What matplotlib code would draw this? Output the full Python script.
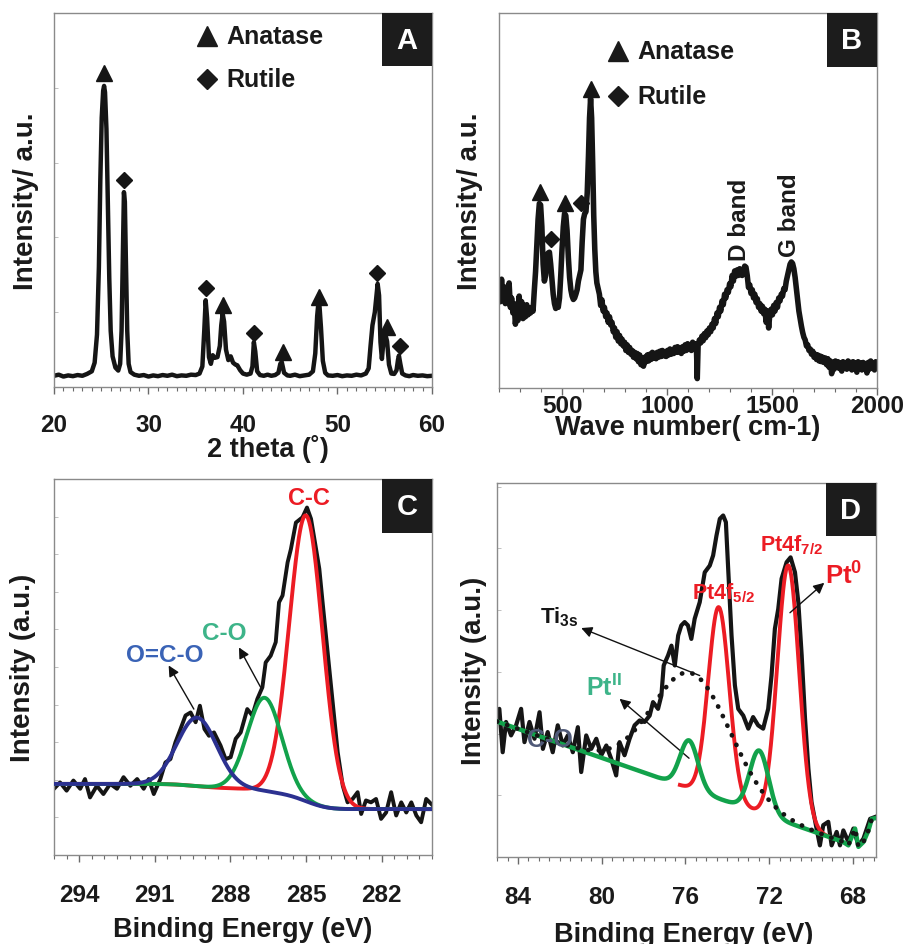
import numpy as np
import matplotlib
matplotlib.use("Agg")
import matplotlib.pyplot as plt
from matplotlib.patches import Rectangle
from matplotlib.ticker import MultipleLocator, NullLocator

plt.rcParams['font.family'] = ['Liberation Sans', 'DejaVu Sans']
plt.rcParams['font.weight'] = 'bold'
plt.rcParams['axes.labelweight'] = 'bold'
plt.rcParams['mathtext.fontset'] = 'custom'
plt.rcParams['mathtext.rm'] = 'Liberation Sans:bold'
plt.rcParams['mathtext.it'] = 'Liberation Sans:bold'
plt.rcParams['mathtext.bf'] = 'Liberation Sans:bold'

# ---------------- (A) XRD pattern ----------------
xrd_2theta = [
    20.0, 20.5, 21.0, 21.5, 22.0, 22.5, 23.0, 23.5, 24.0, 24.3,
    24.55, 24.75, 24.9, 25.05, 25.2, 25.3, 25.4, 25.55, 25.7, 25.85,
    26.0, 26.2, 26.5, 26.8, 27.0, 27.15, 27.3, 27.4, 27.5, 27.6,
    27.75, 27.9, 28.1, 28.5, 29.0, 29.5, 30.0, 30.5, 31.0, 31.5,
    32.0, 32.5, 33.0, 33.5, 34.0, 34.5, 35.0, 35.4, 35.7, 35.9,
    36.05, 36.2, 36.4, 36.6, 36.8, 37.0, 37.3, 37.55, 37.7, 37.85,
    38.0, 38.2, 38.45, 38.7, 38.95, 39.2, 39.4, 39.7, 40.0, 40.4,
    40.8, 41.0, 41.15, 41.3, 41.5, 41.8, 42.2, 42.6, 43.0, 43.4,
    43.75, 43.95, 44.1, 44.35, 44.7, 45.0, 45.5, 46.0, 46.5, 47.0,
    47.4, 47.65, 47.85, 47.97, 48.1, 48.25, 48.45, 48.7, 49.0, 49.5,
    50.0, 50.5, 51.0, 51.5, 52.0, 52.5, 53.0, 53.3, 53.5, 53.7,
    53.95, 54.1, 54.25, 54.4, 54.55, 54.7, 54.85, 55.05, 55.25, 55.45,
    55.7, 56.0, 56.25, 56.4, 56.5, 56.65, 56.85, 57.2, 57.6, 58.0,
    58.5, 59.0, 59.5, 60.0]
xrd_counts = [
    30, 33, 28, 31, 29, 32, 30, 35, 42, 65,
    140, 320, 550, 720, 792, 805, 788, 690, 490, 290,
    150, 82, 52, 44, 62, 150, 380, 521, 495, 350,
    150, 62, 40, 33, 30, 32, 28, 31, 29, 32,
    30, 33, 29, 31, 30, 33, 32, 36, 55, 150,
    232, 185, 80, 62, 85, 78, 80, 110, 165, 196,
    175, 100, 72, 82, 65, 60, 58, 45, 36, 33,
    36, 55, 120, 95, 42, 32, 30, 33, 30, 32,
    38, 62, 67, 38, 31, 30, 33, 29, 31, 33,
    42, 90, 190, 222, 215, 160, 70, 38, 31, 30,
    32, 29, 31, 30, 33, 31, 36, 50, 110, 165,
    200, 238, 276, 245, 120, 75, 118, 142, 122, 60,
    36, 35, 45, 72, 84, 62, 36, 31, 29, 32,
    30, 31, 29, 30]
xrd_anatase_pos = [25.3, 37.9, 44.2, 48.0, 55.2]
xrd_anatase_mark = [840, 220, 94, 242, 160]
xrd_rutile_pos = [27.45, 36.05, 41.15, 54.15, 56.6]
xrd_rutile_mark = [553, 265, 144, 305, 110]

# ---------------- (B) Raman spectrum ----------------
raman_shift = [
    200, 206, 212, 218, 224, 230, 236, 242, 248, 254,
    260, 266, 272, 278, 284, 290, 296, 302, 308, 314,
    320, 326, 332, 338, 344, 350, 356, 362, 368, 374,
    380, 386, 392, 398, 404, 410, 416, 422, 428, 434,
    440, 446, 452, 458, 464, 470, 476, 482, 488, 494,
    500, 506, 512, 518, 524, 530, 536, 542, 548, 554,
    560, 566, 572, 578, 584, 590, 596, 602, 608, 614,
    620, 626, 631, 636, 641, 646, 651, 656, 661, 666,
    672, 678, 684, 690, 696, 702, 708, 714, 720, 726,
    732, 738, 744, 750, 756, 762, 768, 774, 780, 786,
    792, 798, 804, 810, 816, 822, 828, 834, 840, 846,
    852, 858, 864, 870, 876, 882, 888, 894, 900, 906,
    912, 918, 924, 930, 936, 942, 948, 954, 960, 966,
    972, 978, 984, 990, 996, 1002, 1008, 1014, 1020, 1026,
    1032, 1038, 1044, 1050, 1056, 1062, 1068, 1074, 1080, 1086,
    1092, 1098, 1104, 1110, 1116, 1122, 1128, 1134, 1140, 1144,
    1148, 1154, 1160, 1166, 1172, 1178, 1184, 1190, 1196, 1202,
    1208, 1214, 1220, 1226, 1232, 1238, 1244, 1250, 1256, 1262,
    1268, 1274, 1280, 1286, 1292, 1298, 1304, 1310, 1316, 1322,
    1328, 1334, 1340, 1346, 1352, 1358, 1364, 1370, 1376, 1382,
    1388, 1394, 1400, 1406, 1412, 1418, 1424, 1430, 1436, 1442,
    1448, 1454, 1460, 1466, 1472, 1478, 1484, 1490, 1496, 1502,
    1508, 1514, 1520, 1526, 1532, 1538, 1544, 1550, 1556, 1562,
    1568, 1574, 1580, 1586, 1592, 1598, 1604, 1610, 1616, 1622,
    1628, 1634, 1640, 1646, 1652, 1658, 1664, 1670, 1676, 1682,
    1688, 1694, 1700, 1706, 1712, 1718, 1724, 1730, 1736, 1742,
    1748, 1754, 1760, 1766, 1772, 1778, 1784, 1790, 1796, 1802,
    1808, 1814, 1820, 1826, 1832, 1838, 1844, 1850, 1856, 1862,
    1868, 1874, 1880, 1886, 1892, 1898, 1904, 1910, 1916, 1922,
    1928, 1934, 1940, 1946, 1952, 1958, 1964, 1970, 1976, 1982,
    1988, 1994, 2000]
raman_counts = [
    275, 230, 290, 240, 270, 225, 262, 238, 280, 215,
    240, 200, 225, 170, 205, 180, 245, 190, 230, 185,
    215, 190, 222, 195, 212, 200, 215, 205, 260, 310,
    380, 450, 492, 488, 430, 330, 285, 300, 340, 360,
    362, 330, 290, 250, 225, 212, 225, 215, 240, 300,
    370, 430, 465, 460, 420, 350, 295, 262, 245, 236,
    240, 250, 262, 285, 300, 315, 390, 450, 465, 470,
    520, 620, 720, 772, 720, 600, 460, 370, 310, 280,
    265, 250, 220, 235, 205, 215, 190, 200, 175, 190,
    168, 175, 150, 160, 135, 150, 125, 140, 118, 130,
    112, 122, 100, 115, 95, 108, 90, 100, 82, 95,
    78, 92, 70, 88, 62, 80, 58, 82, 70, 88,
    72, 90, 76, 95, 80, 92, 78, 95, 82, 98,
    84, 100, 86, 96, 84, 100, 88, 104, 90, 100,
    92, 108, 95, 110, 96, 106, 92, 110, 98, 115,
    100, 118, 104, 112, 100, 122, 105, 118, 110, 25,
    112, 128, 120, 138, 126, 145, 134, 152, 142, 160,
    150, 170, 160, 185, 172, 200, 190, 215, 205, 232,
    222, 250, 240, 262, 255, 278, 270, 300, 285, 312,
    298, 315, 300, 318, 305, 300, 312, 325, 322, 300,
    268, 275, 252, 262, 240, 250, 228, 238, 215, 225,
    205, 218, 198, 210, 175, 205, 160, 200, 210, 195,
    220, 205, 228, 215, 240, 232, 250, 245, 265, 262,
    285, 300, 315, 330, 336, 332, 318, 295, 265, 235,
    205, 185, 165, 148, 135, 128, 112, 115, 100, 104,
    90, 98, 82, 90, 76, 88, 72, 85, 70, 82,
    68, 80, 62, 78, 55, 72, 38, 68, 50, 72,
    56, 70, 52, 66, 45, 70, 55, 66, 50, 72,
    54, 68, 48, 70, 56, 66, 42, 70, 52, 66,
    48, 68, 55, 65, 40, 68, 50, 72, 55, 62,
    48, 70, 58]
raman_anatase_pos = [397, 513, 636]
raman_anatase_mark = [523, 494, 798]
raman_rutile_pos = [449, 589]
raman_rutile_mark = [398, 492]

# ---------------- (C) C 1s XPS ----------------
c1s_be = [
    295.0, 294.76, 294.5, 294.23, 293.96, 293.77, 293.57, 293.3, 293.04, 292.77,
    292.5, 292.24, 291.97, 291.7, 291.44, 291.24, 291.04, 290.78, 290.58, 290.38,
    290.18, 289.98, 289.78, 289.58, 289.38, 289.21, 289.03, 288.85, 288.65, 288.39,
    288.19, 287.99, 287.79, 287.59, 287.33, 287.13, 286.93, 286.73, 286.6, 286.4,
    286.2, 286.07, 285.93, 285.73, 285.6, 285.4, 285.14, 284.96, 284.8, 284.6,
    284.47, 284.34, 284.14, 283.94, 283.74, 283.54, 283.35, 283.15, 282.95, 282.81,
    282.62, 282.42, 282.22, 282.02, 281.82, 281.62, 281.42, 281.22, 281.02, 280.82,
    280.62, 280.43, 280.23, 279.96]
c1s_counts = [
    176, 193, 171, 198, 176, 202, 153, 184, 162, 189,
    176, 207, 184, 202, 176, 202, 162, 202, 246, 255,
    300, 335, 371, 379, 353, 397, 335, 317, 326, 291,
    255, 260, 309, 326, 388, 371, 415, 446, 512, 530,
    566, 672, 690, 778, 813, 884, 898, 924, 894, 814,
    761, 672, 539, 406, 273, 184, 140, 149, 167, 109,
    145, 140, 149, 96, 113, 167, 105, 140, 113, 140,
    105, 87, 149, 131]
# fitted components: centre (eV), height, sigma (eV)
c1s_peaks = {
    'C-C': (285.0, 760, 0.66),
    'C-O': (286.64, 248, 0.68),
    'O=C-O': (289.32, 182, 0.79),
}
c1s_bg_low, c1s_bg_high = 122, 189

# ---------------- (D) Pt 4f / Ti 3s XPS ----------------
pt4f_be = [
    85.0, 84.89, 84.73, 84.57, 84.33, 84.09, 83.85, 83.69, 83.45, 83.21,
    82.97, 82.81, 82.58, 82.34, 82.1, 81.86, 81.62, 81.38, 81.14, 80.98,
    80.74, 80.5, 80.26, 80.02, 79.78, 79.55, 79.31, 79.15, 78.91, 78.67,
    78.43, 78.19, 77.95, 77.71, 77.55, 77.31, 77.15, 77.04, 76.83, 76.67,
    76.51, 76.35, 76.2, 76.04, 75.88, 75.72, 75.56, 75.32, 75.08, 74.84,
    74.68, 74.52, 74.36, 74.2, 74.07, 73.96, 73.8, 73.64, 73.48, 73.24,
    73.0, 72.77, 72.53, 72.29, 72.05, 71.89, 71.73, 71.57, 71.41, 71.17,
    70.98, 70.77, 70.61, 70.45, 70.29, 70.13, 69.98, 69.74, 69.58, 69.42,
    69.18, 69.02, 68.78, 68.62, 68.46, 68.22, 67.98, 67.74, 67.5, 67.18,
    66.94]
pt4f_counts = [
    387, 396, 280, 361, 325, 352, 396, 307, 361, 316,
    387, 289, 334, 280, 352, 298, 325, 280, 347, 227,
    325, 289, 316, 272, 298, 263, 218, 307, 272, 316,
    352, 365, 361, 378, 414, 396, 432, 512, 539, 565,
    512, 592, 619, 628, 619, 583, 637, 681, 761, 779,
    806, 859, 904, 913, 895, 770, 592, 459, 396, 378,
    343, 374, 352, 343, 396, 485, 610, 663, 744, 788,
    801, 761, 681, 539, 370, 236, 147, 76, 31, 85,
    94, 31, 67, 31, 71, 40, 76, 31, 49, 102,
    107]
# linear background end points (eV, counts) and its noisy low-BE tail
pt4f_bg_ends = [(85.0, 362), (68.5, 41)]
pt4f_tail_be = [68.5, 68.22, 67.9, 67.74, 67.5, 67.26, 67.1, 66.9]
pt4f_tail_counts = [41, 31, 76, 27, 40, 71, 102, 104]
pt0_peaks = [(74.41, 512, 0.50), (71.09, 688, 0.52)]
pt2_peaks = [(75.83, 128, 0.43), (72.48, 166, 0.45)]
ti3s_peak = (75.7, 310, 1.85)

RED = '#ec1c24'
GREEN = '#12a24b'
NAVY = '#2c3190'
TEAL = '#3db489'
BLUE_TXT = '#3a63b6'


def gauss(x, centre, height, sigma):
    return height * np.exp(-0.5 * ((x - centre) / sigma) ** 2)


def style_axes(ax, xmajor, xminor, ystep, letter, pad):
    for spine in ax.spines.values():
        spine.set_color('#8a8a8a')
        spine.set_linewidth(1.0)
    ax.xaxis.set_major_locator(MultipleLocator(xmajor))
    ax.xaxis.set_minor_locator(MultipleLocator(xminor))
    if ystep:
        ax.yaxis.set_major_locator(MultipleLocator(ystep))
    else:
        ax.yaxis.set_major_locator(NullLocator())
    ax.yaxis.set_minor_locator(NullLocator())
    ax.tick_params(axis='x', which='major', direction='out', length=5, width=1.0,
                   color='#6a6a6a', labelsize=17.5, labelcolor='#1a1a1a', pad=pad)
    ax.tick_params(axis='x', which='minor', direction='out', length=3, width=0.8,
                   color='#6a6a6a')
    ax.tick_params(axis='y', which='major', direction='in', length=3, width=0.6,
                   color='#b5b5b5', labelleft=False)
    ax.set_ylim(0, 1000)
    # black tag with the panel letter in the upper right corner
    ax.add_patch(Rectangle((0.868, 0.857), 0.132, 0.143, transform=ax.transAxes,
                           facecolor='#1c1c1c', edgecolor='none', zorder=10, clip_on=False))
    ax.text(0.934, 0.928, letter, transform=ax.transAxes, color='white', fontsize=21,
            ha='center', va='center', zorder=11)


def set_labels(ax, xlabel, ylabel, xpos, ypos):
    ax.set_xlabel(xlabel, fontsize=19.5, va='center', color='#1a1a1a')
    ax.xaxis.set_label_coords(*xpos)
    ax.set_ylabel(ylabel, fontsize=20, va='center', color='#1a1a1a')
    ax.yaxis.set_label_coords(*ypos)


def phase_legend(ax, x, y_top, y_bot):
    ax.plot([x], [y_top], marker='^', ms=14, color='#1a1a1a', transform=ax.transAxes, clip_on=False)
    ax.plot([x], [y_bot], marker='D', ms=10.5, color='#1a1a1a', transform=ax.transAxes, clip_on=False)
    ax.text(x + 0.05, y_top, 'Anatase', transform=ax.transAxes, fontsize=18, va='center', color='#1a1a1a')
    ax.text(x + 0.05, y_bot, 'Rutile', transform=ax.transAxes, fontsize=18, va='center', color='#1a1a1a')


def arrow(ax, head, tail):
    ax.annotate('', xy=head, xytext=tail,
                arrowprops=dict(arrowstyle='-|>', color='#111111', lw=1.0, mutation_scale=16,
                                shrinkA=0, shrinkB=0))


fig = plt.figure(figsize=(9.06, 9.45), dpi=100)
ax_a = fig.add_axes([0.0596, 0.5894, 0.4172, 0.3958])
ax_b = fig.add_axes([0.5508, 0.5884, 0.4172, 0.3968])
ax_c = fig.add_axes([0.0596, 0.0942, 0.4172, 0.3979])
ax_d = fig.add_axes([0.5486, 0.0921, 0.4183, 0.3958])

# --- A ---
ax_a.plot(xrd_2theta, xrd_counts, color='#151515', lw=3.2, solid_joinstyle='round')
ax_a.plot(xrd_anatase_pos, xrd_anatase_mark, ls='none', marker='^', ms=11, color='#151515')
ax_a.plot(xrd_rutile_pos, xrd_rutile_mark, ls='none', marker='D', ms=8, color='#151515')
ax_a.set_xlim(20, 60)
style_axes(ax_a, 10, 1, 200, 'A', 14)
phase_legend(ax_a, 0.405, 0.939, 0.824)
set_labels(ax_a, '2 theta (˚)', 'Intensity/ a.u.', (0.565, -0.163), (-0.074, 0.5))

# --- B ---
ax_b.plot(raman_shift, raman_counts, color='#151515', lw=4.0, solid_joinstyle='round')
ax_b.plot(raman_anatase_pos, raman_anatase_mark, ls='none', marker='^', ms=11, color='#151515')
ax_b.plot(raman_rutile_pos, raman_rutile_mark, ls='none', marker='D', ms=8, color='#151515')
ax_b.text(1346, 452, 'D band', rotation=90, fontsize=17.5, ha='center', va='center', color='#1a1a1a')
ax_b.text(1584, 464, 'G band', rotation=90, fontsize=17.5, ha='center', va='center', color='#1a1a1a')
ax_b.set_xlim(200, 2000)
style_axes(ax_b, 500, 100, None, 'B', -1)
phase_legend(ax_b, 0.315, 0.899, 0.779)
set_labels(ax_b, 'Wave number( cm-1)', 'Intensity/ a.u.', (0.5, -0.104), (-0.077, 0.5))

# --- C ---
be_c = np.linspace(280, 295, 700)
comp_c = {k: gauss(be_c, *p) for k, p in c1s_peaks.items()}
total_c = sum(comp_c.values())
shirley = c1s_bg_low + (c1s_bg_high - c1s_bg_low) * np.cumsum(total_c) / total_c.sum()
ax_c.plot(c1s_be, c1s_counts, color='#151515', lw=2.8, zorder=2)
ax_c.plot(be_c, shirley + comp_c['C-C'], color=RED, lw=2.8, zorder=3)
ax_c.plot(be_c, shirley + comp_c['C-O'], color=GREEN, lw=2.8, zorder=4)
ax_c.plot(be_c, shirley + comp_c['O=C-O'], color=NAVY, lw=2.8, zorder=5)
ax_c.text(284.9, 951, 'C-C', color=RED, fontsize=17, ha='center', va='center')
ax_c.text(288.23, 592, 'C-O', color=TEAL, fontsize=17.5, ha='center', va='center')
ax_c.text(290.62, 532, 'O=C-O', color=BLUE_TXT, fontsize=17.5, ha='center', va='center')
arrow(ax_c, (290.45, 504), (289.45, 388))
arrow(ax_c, (287.66, 552), (286.8, 446))
ax_c.set_xlim(295, 280)
style_axes(ax_c, 3, 0.5, 100, 'C', 15)
set_labels(ax_c, 'Binding Energy (eV)', 'Intensity (a.u.)', (0.499, -0.197), (-0.081, 0.5))

# --- D ---
be_d = np.linspace(68.5, 85, 700)
(x0, y0), (x1, y1) = pt4f_bg_ends
line_bg = y0 + (y1 - y0) * (be_d - x0) / (x1 - x0)
pt0 = sum(gauss(be_d, *p) for p in pt0_peaks)
pt2 = sum(gauss(be_d, *p) for p in pt2_peaks)
ti = gauss(be_d, *ti3s_peak)
red_d = np.where(pt0 > 0.5, line_bg + pt0, np.nan)
ax_d.plot(pt4f_be, pt4f_counts, color='#151515', lw=3.0, zorder=2, solid_joinstyle='round')
ax_d.plot(be_d, red_d, color=RED, lw=2.8, zorder=3)
ax_d.plot(np.r_[be_d[::-1], pt4f_tail_be], np.r_[(line_bg + pt2)[::-1], pt4f_tail_counts],
          color=GREEN, lw=3.2, zorder=4)
ax_d.plot(np.r_[be_d[::-1], pt4f_tail_be], np.r_[(line_bg + ti)[::-1], pt4f_tail_counts],
          color='#151515', lw=3.4, ls=(0, (0.05, 2.2)), dash_capstyle='round', zorder=5)
ax_d.text(82.5, 316, 'C-O', color='#505a78', fontsize=18, ha='center', va='center', zorder=6)
ax_d.text(72.45, 819, 'Pt4f$_{7/2}$', color=RED, fontsize=15.5, ha='left', va='baseline', zorder=7)
ax_d.text(75.67, 690, 'Pt4f$_{5/2}$', color=RED, fontsize=15.5, ha='left', va='baseline', zorder=7)
ax_d.text(69.34, 730, 'Pt$^{0}$', color=RED, fontsize=18.5, ha='left', va='baseline', zorder=7)
ax_d.text(82.94, 626, 'Ti$_{3s}$', color='#151515', fontsize=16, ha='left', va='baseline', zorder=7)
ax_d.text(80.74, 434, 'Pt$^{II}$', color=TEAL, fontsize=18, ha='left', va='baseline', zorder=7)
arrow(ax_d, (69.37, 733), (71.01, 653))
arrow(ax_d, (80.98, 612), (75.32, 485))
arrow(ax_d, (79.15, 423), (75.83, 264))
ax_d.set_xlim(85, 66.9)
style_axes(ax_d, 4, 0.5, 165, 'D', 15.5)
set_labels(ax_d, 'Binding Energy (eV)', 'Intensity (a.u.)', (0.493, -0.206), (-0.061, 0.5))

fig.savefig('out.png', dpi=100, facecolor='white')
